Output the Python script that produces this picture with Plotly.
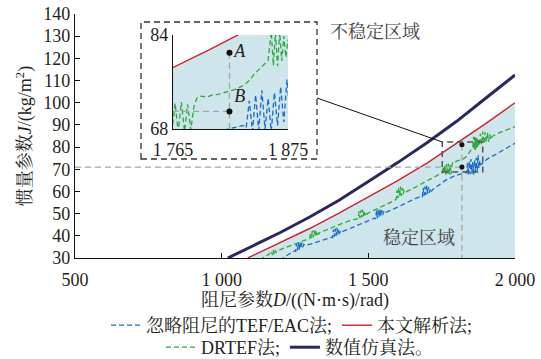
import plotly.graph_objects as go

# ---------------- data ----------------
# numerical simulation (数值仿真法)
D_sim = [1021, 1100, 1200, 1300, 1400, 1500, 1600, 1700, 1800, 1900, 2000]
J_sim = [30.0, 35.0, 41.5, 48.5, 56.0, 64.5, 73.0, 82.0, 91.5, 102.0, 112.5]

# analytical boundary (本文解析法)
D_ana = [1089, 1100, 1200, 1300, 1400, 1500, 1600, 1700, 1800, 1900, 2000]
J_ana = [30.0, 30.7, 36.9, 43.3, 50.2, 57.5, 64.9, 72.8, 81.5, 90.6, 100.0]

# DRTEF method (DRTEF法)
D_drtef = [1130, 1145, 1160, 1170, 1173, 1176, 1179, 1182, 1185, 1190, 1210, 1230, 1250, 1270, 1290,
           1300, 1303, 1306, 1309, 1312, 1315, 1318, 1321, 1324, 1327, 1330, 1334,
           1355, 1380, 1405, 1430, 1455,
           1465, 1468, 1471, 1474, 1477, 1480, 1483, 1486, 1489, 1492, 1496, 1500,
           1525, 1550, 1575, 1592,
           1595, 1598, 1601, 1604, 1607, 1610, 1613, 1616, 1619, 1622, 1626,
           1650, 1675, 1700, 1725, 1748,
           1752, 1755, 1758, 1761, 1764, 1767, 1770, 1773, 1776, 1779, 1782, 1785,
           1788, 1792, 1797, 1803, 1808, 1813, 1818, 1824, 1830, 1835, 1839, 1842, 1846, 1851, 1856,
           1859, 1861, 1863, 1865, 1867, 1869, 1871, 1873, 1875, 1878, 1882, 1886, 1890, 1894,
           1898, 1902, 1906, 1910, 1914, 1918, 1922,
           1945, 1970, 2000]
J_drtef = [29.0, 30.5, 31.5, 33.2, 31.3, 33.5, 31.8, 33.6, 32.3, 33.2, 34.3, 35.3, 36.3, 37.2, 38.2,
           38.8, 41.5, 38.9, 42.2, 39.3, 42.5, 39.8, 42.6, 40.3, 42.0, 40.6, 41.4,
           42.6, 44.0, 45.3, 46.5, 47.6,
           47.8, 51.0, 48.0, 51.5, 48.3, 51.8, 48.8, 51.3, 49.2, 50.8, 49.8, 50.3,
           51.8, 53.4, 55.0, 56.2,
           56.5, 60.5, 57.0, 61.8, 57.5, 62.2, 58.0, 61.5, 58.8, 60.6, 59.6,
           61.2, 62.9, 64.6, 66.3, 67.8,
           68.4, 71.2, 68.0, 72.0, 67.6, 72.4, 67.5, 72.6, 67.6, 72.2, 67.8, 71.8,
           73.3, 73.6, 73.4, 73.8, 73.9, 74.1, 74.4, 74.7, 75.2, 75.8, 76.4, 77.2, 77.9, 78.9, 79.7,
           84.6, 78.8, 84.4, 78.7, 84.5, 79.6, 83.8, 80.2, 83.2, 80.5, 86.0, 81.0, 87.0, 81.5,
           86.8, 82.0, 86.5, 82.5, 85.8, 83.3, 84.8,
           86.4, 87.8, 89.2]

# TEF/EAC method ignoring damping (忽略阻尼的TEF/EAC法)
D_tef = [1198, 1215, 1232, 1248,
         1252, 1255, 1258, 1261, 1264, 1267, 1270, 1273, 1276, 1280, 1285,
         1310, 1335, 1360, 1375,
         1378, 1381, 1384, 1387, 1390, 1393, 1396, 1399, 1402, 1406, 1410,
         1435, 1460, 1485, 1510, 1522,
         1525, 1528, 1531, 1534, 1537, 1540, 1543, 1546, 1549, 1552, 1556, 1560,
         1585, 1610, 1635, 1660, 1680,
         1684, 1687, 1690, 1693, 1696, 1699, 1702, 1705, 1708, 1711, 1715, 1719,
         1740, 1765, 1790, 1812, 1832,
         1835, 1838, 1841, 1844, 1847, 1850, 1853, 1856, 1859, 1862, 1865, 1868, 1871, 1874,
         1877, 1880, 1884,
         1905, 1930, 1955, 1978, 2000]
J_tef = [29.0, 30.6, 32.0, 33.2,
         33.0, 36.4, 33.4, 37.0, 33.8, 37.2, 34.3, 36.8, 34.8, 36.2, 35.6,
         36.5, 37.6, 38.8, 39.4,
         39.2, 42.8, 39.6, 43.3, 40.0, 43.6, 40.5, 43.0, 41.0, 42.4, 41.8,
         43.2, 44.6, 46.1, 47.6, 48.0,
         47.6, 51.4, 48.0, 52.0, 48.4, 52.2, 48.9, 51.6, 49.4, 51.0, 50.0, 50.6,
         52.0, 53.6, 55.3, 56.8, 57.8,
         57.6, 61.6, 58.0, 62.2, 58.4, 62.6, 58.9, 62.0, 59.4, 61.4, 60.0, 60.8,
         62.8, 65.2, 66.8, 67.8, 68.6,
         68.2, 72.8, 67.6, 73.8, 67.8, 74.6, 68.0, 73.2, 67.6, 74.2, 68.6, 75.2, 69.2, 76.4,
         70.4, 74.0, 72.0,
         74.6, 76.4, 78.2, 79.8, 81.7]

# operating points A and B
D_AB = 1819
J_A = 81.0
J_B = 71.0

# axis settings
X_RANGE = [500, 2000]
Y_RANGE = [30, 140]
X_TICKS = [500, 1000, 1500, 2000]
X_TICKTEXT = ["500", "1 000", "1 500", "2 000"]
Y_TICKS = list(range(30, 141, 10))

# zoom window
ZOOM_D = [1765, 1875]
ZOOM_J = [68, 84]
ZOOM_TICKTEXT = ["1 765", "1 875"]
BOX_D = [1752, 1890]
BOX_J = [68.8, 82.3]

# ---------------- layout geometry (pixels) ----------------
W, H = 541, 359
PLOT_L, PLOT_R, PLOT_T, PLOT_B = 75, 515, 14, 258
INSET_L, INSET_R, INSET_T, INSET_B = 173, 288, 35, 129
FRAME = (141, 22, 317, 159)      # left, top, right, bottom of the inset frame
CONNECT_Y = 98                    # where the connector leaves the frame

FONT = "Liberation Serif, 'Noto Serif CJK SC', 'Noto Sans CJK SC', serif"
TXT = "#231f20"
NAVY = "#28295f"
RED = "#d0212b"
GREEN = "#2fa83a"
BLUE = "#1b6cc4"
FILL = "#cde5eb"
DASH = "5px,3px"


def fx(px):
    """pixel column -> paper fraction (margins are zero)"""
    return px / W


def fy(py):
    """pixel row -> paper fraction"""
    return (H - py) / H


def px_to_D(px):
    return X_RANGE[0] + (px - PLOT_L) / (PLOT_R - PLOT_L) * (X_RANGE[1] - X_RANGE[0])


def py_to_J(py):
    return Y_RANGE[0] + (PLOT_B - py) / (PLOT_B - PLOT_T) * (Y_RANGE[1] - Y_RANGE[0])


fig = go.Figure()

# stable region (below analytical boundary)
for xa, ya in (("x", "y"), ("x2", "y2")):
    fig.add_trace(go.Scatter(x=D_ana, y=J_ana, mode="lines", fill="tozeroy",
                             fillcolor=FILL, line=dict(width=0), showlegend=False,
                             hoverinfo="skip", xaxis=xa, yaxis=ya))

# main curves
fig.add_trace(go.Scatter(x=D_tef, y=J_tef, mode="lines", name="忽略阻尼的TEF/EAC法;",
                         line=dict(color=BLUE, width=1.3, dash=DASH), legend="legend"))
fig.add_trace(go.Scatter(x=D_drtef, y=J_drtef, mode="lines", name="DRTEF法;",
                         line=dict(color=GREEN, width=1.3, dash=DASH), legend="legend2"))
fig.add_trace(go.Scatter(x=D_ana, y=J_ana, mode="lines", name="本文解析法;",
                         line=dict(color=RED, width=1.4), legend="legend"))
fig.add_trace(go.Scatter(x=D_sim, y=J_sim, mode="lines", name="数值仿真法。",
                         line=dict(color=NAVY, width=3), legend="legend2"))

# guide lines through A and B
GUIDE = dict(color="#a6a6a6", width=1.3, dash="6px,4px")
fig.add_trace(go.Scatter(x=[X_RANGE[0], D_AB], y=[J_B, J_B], mode="lines", line=GUIDE,
                         showlegend=False, hoverinfo="skip"))
fig.add_trace(go.Scatter(x=[D_AB, D_AB], y=[J_A, Y_RANGE[0]], mode="lines", line=GUIDE,
                         showlegend=False, hoverinfo="skip"))
fig.add_trace(go.Scatter(x=[D_AB, D_AB], y=[J_A, J_B], mode="markers",
                         marker=dict(color="#111111", size=5), showlegend=False))

# inset curves
fig.add_trace(go.Scatter(x=D_tef, y=J_tef, mode="lines", line=dict(color=BLUE, width=1.3, dash=DASH),
                         showlegend=False, xaxis="x2", yaxis="y2"))
fig.add_trace(go.Scatter(x=D_drtef, y=J_drtef, mode="lines", line=dict(color=GREEN, width=1.3, dash=DASH),
                         showlegend=False, xaxis="x2", yaxis="y2"))
fig.add_trace(go.Scatter(x=D_ana, y=J_ana, mode="lines", line=dict(color=RED, width=1.4),
                         showlegend=False, xaxis="x2", yaxis="y2"))
fig.add_trace(go.Scatter(x=[ZOOM_D[0], D_AB], y=[J_B, J_B], mode="lines", line=GUIDE,
                         showlegend=False, hoverinfo="skip", xaxis="x2", yaxis="y2"))
fig.add_trace(go.Scatter(x=[D_AB, D_AB], y=[J_A, ZOOM_J[0]], mode="lines", line=GUIDE,
                         showlegend=False, hoverinfo="skip", xaxis="x2", yaxis="y2"))
fig.add_trace(go.Scatter(x=[D_AB, D_AB], y=[J_A, J_B], mode="markers+text", text=["<i>A</i>", "<i>B</i>"],
                         textposition=["middle right", "top right"],
                         textfont=dict(family=FONT, size=18, color=TXT),
                         marker=dict(color="#111111", size=6), showlegend=False,
                         xaxis="x2", yaxis="y2", cliponaxis=False))

AX = dict(showline=True, linecolor="#111111", linewidth=1.3, ticks="inside", ticklen=5,
          tickcolor="#111111", tickwidth=1.2, showgrid=False, zeroline=False, automargin=False,
          tickfont=dict(family=FONT, size=18, color=TXT))

LEG = dict(orientation="h", xanchor="left", yanchor="top", bgcolor="rgba(0,0,0,0)",
           font=dict(family=FONT, size=18, color=TXT), itemwidth=30, tracegroupgap=0)

fig.update_layout(
    width=W, height=H,
    margin=dict(l=0, r=0, t=0, b=0, autoexpand=False),
    paper_bgcolor="white", plot_bgcolor="rgba(0,0,0,0)",
    font=dict(family=FONT, size=18, color=TXT),
    xaxis=dict(AX, range=X_RANGE, tickvals=X_TICKS, ticktext=X_TICKTEXT,
               domain=[fx(PLOT_L), fx(PLOT_R)], anchor="y", ticklabelstandoff=5,
               title=dict(text="阻尼参数<i>D</i>/((N·m·s)/rad)", standoff=0,
                          font=dict(family=FONT, size=18, color=TXT))),
    yaxis=dict(AX, range=Y_RANGE, tickvals=Y_TICKS, domain=[fy(PLOT_B), fy(PLOT_T)], anchor="x",
               title=dict(text="惯量参数<i>J</i>/(kg/m<sup>2</sup>)", standoff=6,
                          font=dict(family=FONT, size=18, color=TXT))),
    xaxis2=dict(AX, range=ZOOM_D, tickvals=ZOOM_D, ticktext=ZOOM_TICKTEXT,
                domain=[fx(INSET_L), fx(INSET_R)], anchor="y2", ticklabelstandoff=4),
    yaxis2=dict(AX, range=ZOOM_J, tickvals=ZOOM_J, domain=[fy(INSET_B), fy(INSET_T)], anchor="x2"),
    legend=dict(LEG, x=fx(106), y=fy(307)),
    legend2=dict(LEG, x=fx(161), y=fy(329)),
    showlegend=True,
)

# dashed frame around the inset, zoom window and connector
fig.add_shape(type="rect", xref="paper", yref="paper",
              x0=fx(FRAME[0]), x1=fx(FRAME[2]), y0=fy(FRAME[3]), y1=fy(FRAME[1]),
              line=dict(color="#333333", width=1.3, dash="6px,4px"))
fig.add_shape(type="rect", xref="x", yref="y", x0=BOX_D[0], x1=BOX_D[1], y0=BOX_J[0], y1=BOX_J[1],
              line=dict(color="#555555", width=1.5, dash="6px,4px"))
fig.add_shape(type="line", xref="x", yref="y",
              x0=px_to_D(FRAME[2]), y0=py_to_J(CONNECT_Y),
              x1=BOX_D[0], y1=BOX_J[1], line=dict(color="#111111", width=1))

fig.add_annotation(x=1522, y=131.9, xref="x", yref="y", text="不稳定区域", showarrow=False,
                   font=dict(family=FONT, size=18, color="#444444"))
fig.add_annotation(x=1674, y=39, xref="x", yref="y", text="稳定区域", showarrow=False,
                   font=dict(family=FONT, size=18, color="#444444"))

fig.write_html("out.html")
